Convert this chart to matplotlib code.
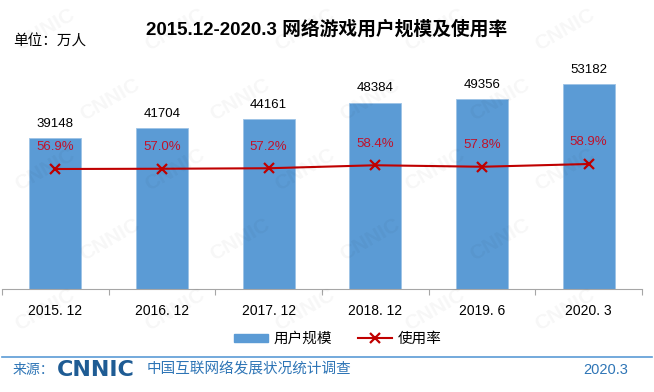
import numpy as np
import matplotlib
matplotlib.use("Agg")
import matplotlib.pyplot as plt
from matplotlib.patches import Patch
from matplotlib.lines import Line2D

plt.rcParams['font.family'] = ['Liberation Sans', 'Noto Sans CJK SC', 'DejaVu Sans']

# data
periods = ['2015. 12', '2016. 12', '2017. 12', '2018. 12', '2019. 6', '2020. 3']
users = [39148, 41704, 44161, 48384, 49356, 53182]
rate = [56.9, 57.0, 57.2, 58.4, 57.8, 58.9]

bar_color = '#5b9bd5'
line_color = '#c00000'
blue_text = '#2e75b6'

W, H = 654, 392
fig = plt.figure(figsize=(W / 100, H / 100), dpi=100)

# axes placed in pixel coords of the reference
left, right, top, bottom = 2, 642, 58, 289
ax = fig.add_axes([left / W, 1 - bottom / H, (right - left) / W, (bottom - top) / H])
x = np.arange(len(periods))

ax.bar(x, users, width=0.49, color=bar_color, edgecolor='#9dc3e6', linewidth=0.6, zorder=2)
ax.set_xlim(-0.5, len(periods) - 0.5)
ax.set_ylim(0, 60000)
for xi, v in zip(x, users):
    ax.annotate(str(v), (xi, v), xytext=(0, 6), textcoords='offset points',
                ha='center', va='bottom', fontsize=9.5, color='black')

for s in ['top', 'right', 'left']:
    ax.spines[s].set_visible(False)
ax.spines['bottom'].set_color('#a6a6a6')
ax.set_yticks([])
ax.set_xticks(np.arange(-0.5, len(periods), 1))
ax.set_xticklabels([])
ax.tick_params(axis='x', which='major', length=4, color='#a6a6a6', width=0.8)
ax.set_xticks(x, minor=True)
ax.set_xticklabels(periods, minor=True, fontsize=10)
ax.tick_params(axis='x', which='minor', length=0, pad=11)

ax2 = ax.twinx()
ax2.plot(x, rate, color=line_color, lw=1.5, marker='x', markersize=7, mew=1.6, zorder=3)
ax2.set_ylim(8.9, 101.3)
ax2.axis('off')
for xi, v in zip(x, rate):
    ax2.annotate(f'{v:.1f}%', (xi, v), xytext=(0, 15.5), textcoords='offset points',
                 ha='center', va='center', fontsize=9.5, color='#c0122b')

# title and unit
fig.text(327 / W, 1 - 29 / H, '2015.12-2020.3 网络游戏用户规模及使用率',
         ha='center', va='center', fontsize=13.5, fontweight='bold')
fig.text(13 / W, 1 - 42 / H, '单位：万人', ha='left', va='center', fontsize=10.5,
         family=['Noto Sans CJK SC', 'DejaVu Sans'])

# legend
handles = [Patch(facecolor=bar_color, edgecolor=bar_color),
           Line2D([], [], color=line_color, lw=1.5, marker='x', markersize=7, mew=1.6)]
fig.legend(handles, ['用户规模', '使用率'], loc='center', bbox_to_anchor=(338 / W, 1 - 339 / H),
           ncol=2, frameon=False, handlelength=2.3, handleheight=0.5,
           columnspacing=1.8, handletextpad=0.4, prop={'family': ['Noto Sans CJK SC'], 'size': 10.5})

# footer
fig.add_artist(Line2D([2 / W, 652 / W], [1 - 357 / H, 1 - 357 / H], color='#5b9bd5', lw=1.2))
fy = 1 - 370 / H
fig.text(13 / W, fy, '来源：', ha='left', va='center', fontsize=10, color=blue_text,
         family=['Noto Sans CJK SC'])
fig.text(57 / W, fy, 'CNNIC', ha='left', va='center', fontsize=16, color='#1f5c94',
         fontweight='heavy', family=['DejaVu Sans'])
fig.text(147 / W, fy, '中国互联网络发展状况统计调查', ha='left', va='center', fontsize=10.5,
         color=blue_text, family=['Noto Sans CJK SC'])
fig.text(628 / W, fy, '2020.3', ha='right', va='center', fontsize=10.5, color=blue_text)

# faint watermark, kept inside the canvas
for row, wy in enumerate(range(30, 380, 70)):
    off = 0 if row % 2 == 0 else 65
    for wx in range(45 + off, 620, 130):
        fig.text(wx / W, 1 - wy / H, 'CNNIC', ha='center', va='center', fontsize=15,
                 fontweight='bold', rotation=30, color='black', alpha=0.035, zorder=10)

fig.savefig('out.png', dpi=100)
